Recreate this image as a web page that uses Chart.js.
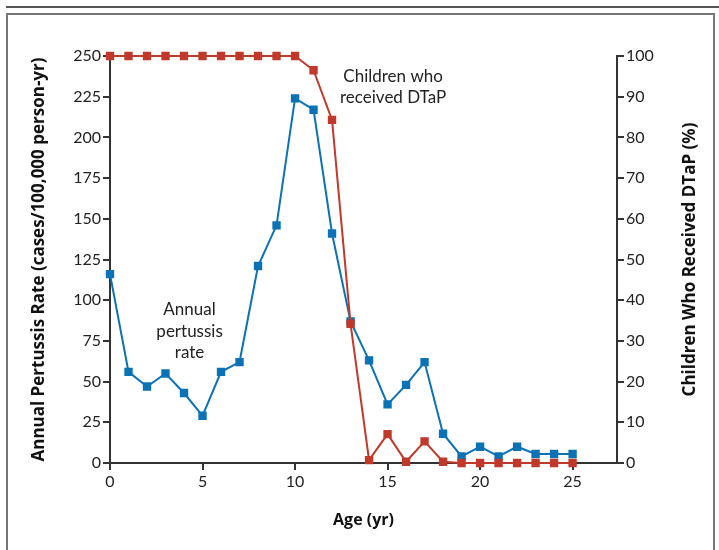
<!DOCTYPE html>
<html>
<head>
<meta charset="utf-8">
<script src="https://cdn.jsdelivr.net/npm/chart.js@4"></script>
<style>
  body { margin: 0; background: #fff; width: 719px; height: 550px; overflow: hidden; position: relative; }
  #topline { position: absolute; left: 6px; top: 6px; width: 713px; height: 2px; background: #555; }
  #box { position: absolute; left: 6px; top: 13px; width: 709px; height: 560px; border: 2px solid #777; box-sizing: border-box; }
  #wrap { position: absolute; left: 0; top: 0; width: 719px; height: 550px; }
</style>
</head>
<body>
<div id="topline"></div>
<div id="box"></div>
<div id="wrap"><canvas id="myChart"></canvas></div>
<script>
//Edades (eje X)
const edades = [0, 1, 2, 3, 4, 5, 6, 7, 8, 9, 10, 11, 12, 13, 14, 15, 16, 17, 18, 19, 20, 21, 22, 23, 24, 25];

//Tasa anual de tos ferina (eje izquierdo)
const tasaAnual = [116, 56, 47, 55, 43, 29, 56, 62, 121, 146, 224, 217, 141, 87, 63, 36, 48, 62, 18, 4, 10, 4, 10, 5.5, 5.5, 5.5];

//Niños que recibieron DTaP en % (eje derecho)
const dtap = [100, 100, 100, 100, 100, 100, 100, 100, 100, 100, 100, 96.5, 84.3, 34.2, 0.7, 7.1, 0.3, 5.3, 0.3, 0, 0, 0, 0, 0, 0, 0];

//Etiquetas de ticks
const ticksX = [0, 5, 10, 15, 20, 25];
const ticksIzq = [0, 25, 50, 75, 100, 125, 150, 175, 200, 225, 250];
const ticksDer = [0, 10, 20, 30, 40, 50, 60, 70, 80, 90, 100];

const azul = '#0b72b5';
const rojo = '#c0392b';
const fuente = 'Lato, "Open Sans", sans-serif';
const fuenteTitulo = '"Open Sans", Lato, sans-serif';

//Anotaciones de texto y título del eje derecho
const notas = {
  id: 'notas',
  afterDatasetsDraw(chart) {
    const ctx = chart.ctx;
    const x = chart.scales.x;
    const y = chart.scales.y;
    ctx.save();
    ctx.fillStyle = '#222';
    ctx.font = '17px ' + fuente;
    ctx.textAlign = 'center';
    ctx.textBaseline = 'middle';
    ctx.fillText('Children who', x.getPixelForValue(15.3), y.getPixelForValue(237.5));
    ctx.fillText('received DTaP', x.getPixelForValue(15.3), y.getPixelForValue(224.5));
    ctx.fillText('Annual', x.getPixelForValue(4.3), y.getPixelForValue(94));
    ctx.fillText('pertussis', x.getPixelForValue(4.3), y.getPixelForValue(81));
    ctx.fillText('rate', x.getPixelForValue(4.3), y.getPixelForValue(68));

    //Título del eje derecho, de abajo hacia arriba
    ctx.translate(690, (chart.chartArea.top + chart.chartArea.bottom) / 2);
    ctx.rotate(-Math.PI / 2);
    ctx.fillStyle = '#111';
    ctx.font = 'bold 17px ' + fuenteTitulo;
    ctx.fillText('Children Who Received DTaP (%)', 0, 0);
    ctx.restore();
  }
};

const ejeComun = {
  grid: { drawOnChartArea: false, drawTicks: true, tickLength: 7, color: '#333', lineWidth: 2 },
  border: { color: '#333', width: 2 }
};

const config = {
  type: 'line',
  data: {
    labels: edades,
    datasets: [
      {
        label: 'DTaP',
        data: edades.map((e, i) => ({ x: e, y: dtap[i] })),
        yAxisID: 'y1',
        borderColor: rojo,
        backgroundColor: rojo,
        borderWidth: 2,
        pointStyle: 'rect',
        pointRadius: 4.5,
        pointHoverRadius: 4.5,
        tension: 0
      },
      {
        label: 'Tasa anual',
        data: edades.map((e, i) => ({ x: e, y: tasaAnual[i] })),
        yAxisID: 'y',
        borderColor: azul,
        backgroundColor: azul,
        borderWidth: 2,
        pointStyle: 'rect',
        pointRadius: 4.5,
        pointHoverRadius: 4.5,
        tension: 0
      }
    ]
  },
  options: {
    responsive: false,
    animation: false,
    clip: false,
    layout: { padding: { top: 56, left: 0, right: 0, bottom: 0 } },
    plugins: { legend: { display: false }, tooltip: { enabled: false } },
    scales: {
      x: {
        ...ejeComun,
        type: 'linear',
        min: 0,
        max: 27.4,
        afterBuildTicks: (s) => { s.ticks = ticksX.map(v => ({ value: v })); },
        ticks: { color: '#222', font: { family: fuente, size: 16 }, padding: 2, maxRotation: 0 },
        title: { display: true, text: 'Age (yr)', color: '#111', font: { family: fuenteTitulo, size: 16, weight: 'bold' }, padding: { top: 0, bottom: 20 } },
        afterFit: (s) => { s.height = 87; }
      },
      y: {
        ...ejeComun,
        position: 'left',
        min: 0,
        max: 250,
        afterBuildTicks: (s) => { s.ticks = ticksIzq.map(v => ({ value: v })); },
        ticks: { color: '#222', font: { family: fuente, size: 16 }, padding: 2 },
        title: { display: true, text: 'Annual Pertussis Rate (cases/100,000 person-yr)', color: '#111', font: { family: fuenteTitulo, size: 17, weight: 'bold' }, padding: { top: 29, bottom: 0 } },
        afterFit: (s) => { s.width = 110; }
      },
      y1: {
        ...ejeComun,
        position: 'right',
        min: 0,
        max: 100,
        afterBuildTicks: (s) => { s.ticks = ticksDer.map(v => ({ value: v })); },
        ticks: { color: '#222', font: { family: fuente, size: 16 }, padding: 2 },
        afterFit: (s) => { s.width = 102; }
      }
    }
  },
  plugins: [notas]
};

const lienzo = document.getElementById('myChart');
lienzo.width = 719;
lienzo.height = 550;
new Chart(lienzo, config);
</script>
</body>
</html>
